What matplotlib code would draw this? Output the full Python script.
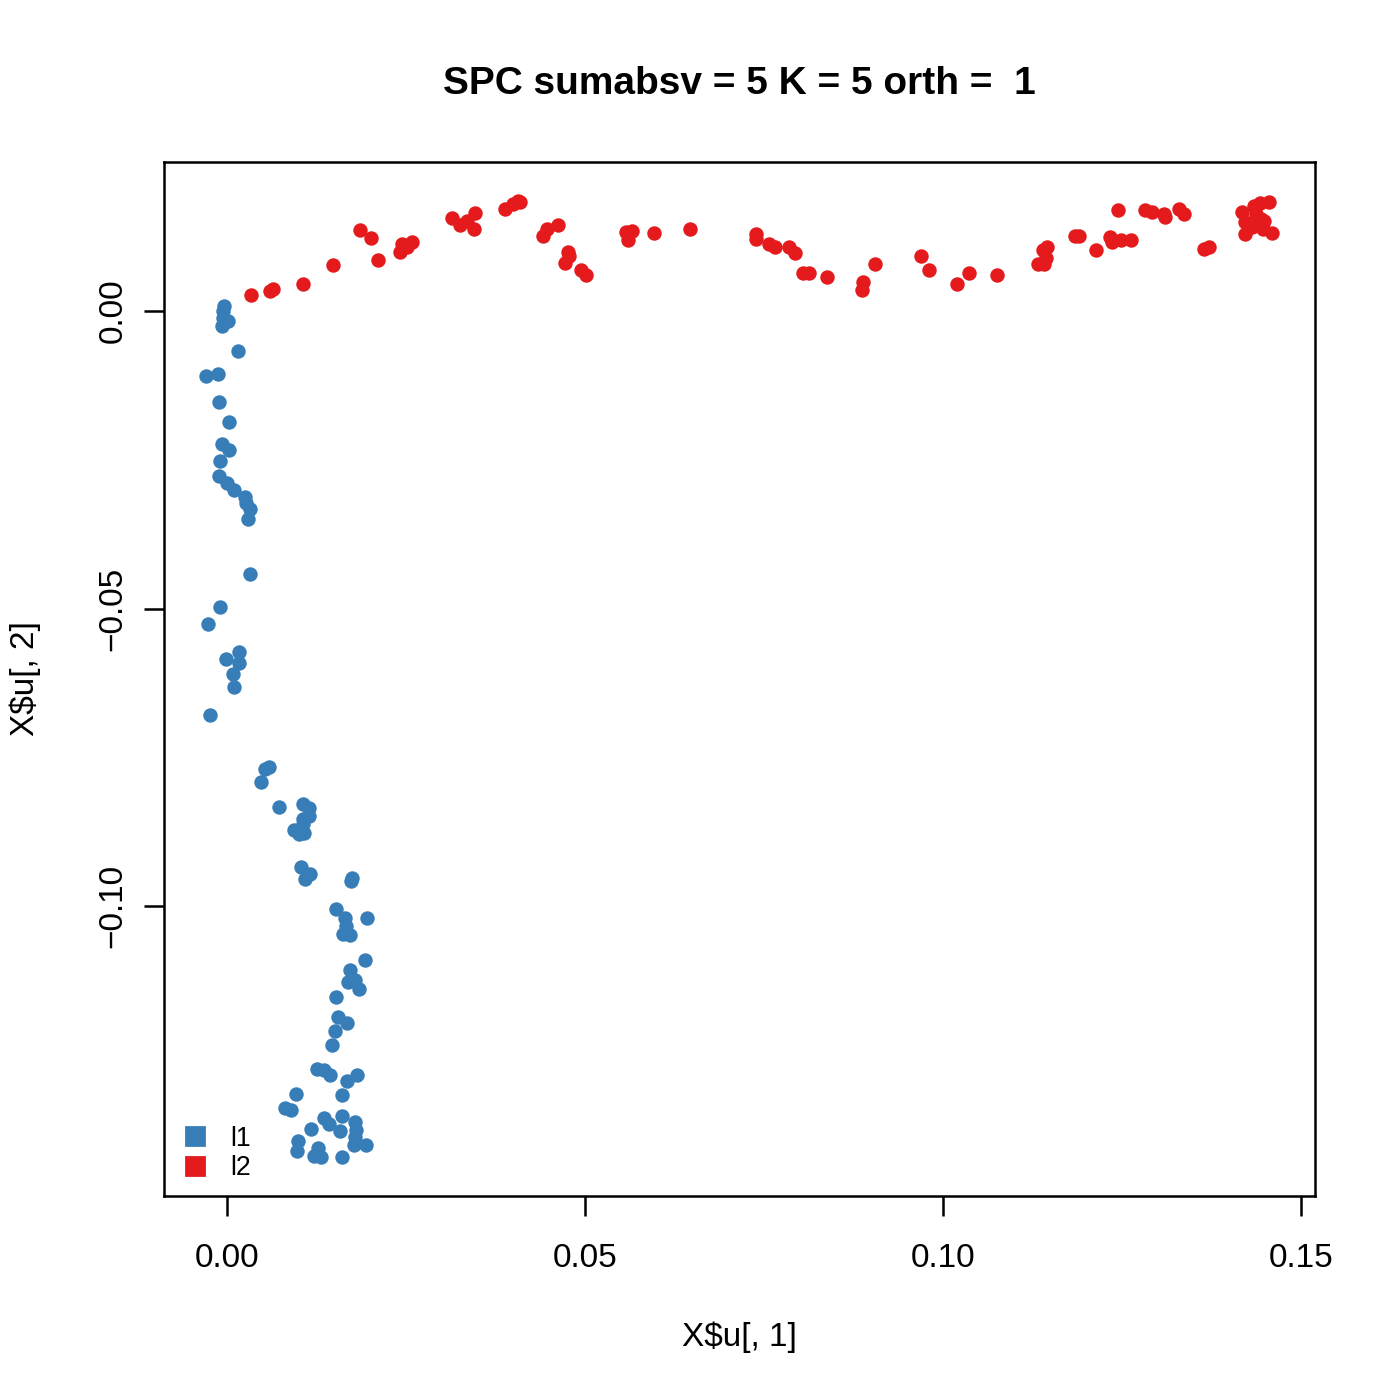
import numpy as np
import matplotlib
matplotlib.use("Agg")
import matplotlib.pyplot as plt
from matplotlib.lines import Line2D

plt.rcParams['font.family'] = ['Liberation Sans', 'DejaVu Sans']

# group l1 (blue)
l1_x = [-0.00052, -0.00056, -0.00060, 0.00014, -0.00070, 0.00149, -0.00293, -0.00130,
        -0.00112, 0.00028, -0.00074, 0.00018, -0.00107, -0.00121, -0.00004, 0.00088,
        0.00251, 0.00265, 0.00311, 0.00289, 0.00311, -0.00107, -0.00269, 0.00158,
        -0.00014, 0.00158, 0.00074, 0.00088, -0.00247, 0.00576, 0.00530, 0.00474,
        0.00725, 0.01050, 0.01144, 0.01144, 0.01050, 0.01050, 0.00934, 0.01064,
        0.00994, 0.01028, 0.01158, 0.01078, 0.01739, 0.01725, 0.01516, 0.01646,
        0.01957, 0.01660, 0.01622, 0.01715, 0.01925, 0.01715, 0.01785, 0.01678,
        0.01845, 0.01516, 0.01544, 0.01669, 0.01497, 0.01464, 0.01251, 0.01343,
        0.01437, 0.01669, 0.01809, 0.01608, 0.00962, 0.00809, 0.00888, 0.01343,
        0.01413, 0.01600, 0.01785, 0.01167, 0.01576, 0.01799, 0.01785, 0.00980,
        0.01762, 0.01934, 0.00972, 0.01259, 0.01204, 0.01307, 0.01608]
l1_y = [0.00079, 0.00000, -0.00118, -0.00168, -0.00253, -0.00673, -0.01094, -0.01056,
        -0.01532, -0.01869, -0.02239, -0.02335, -0.02525, -0.02773, -0.02896, -0.03008,
        -0.03120, -0.03232, -0.03333, -0.03497, -0.04416, -0.04971, -0.05253, -0.05729,
        -0.05842, -0.05914, -0.06094, -0.06318, -0.06785, -0.07665, -0.07694, -0.07907,
        -0.08328, -0.08283, -0.08355, -0.08480, -0.08535, -0.08620, -0.08716, -0.08776,
        -0.08788, -0.09338, -0.09461, -0.09534, -0.09517, -0.09574, -0.10051, -0.10190,
        -0.10202, -0.10332, -0.10471, -0.10488, -0.10909, -0.11061, -0.11229, -0.11274,
        -0.11386, -0.11520, -0.11864, -0.11958, -0.12088, -0.12335, -0.12732, -0.12744,
        -0.12840, -0.12929, -0.12840, -0.13165, -0.13153, -0.13379, -0.13418, -0.13557,
        -0.13658, -0.13513, -0.13614, -0.13742, -0.13771, -0.13754, -0.13867, -0.13934,
        -0.14007, -0.14007, -0.14108, -0.14062, -0.14192, -0.14204, -0.14214]

# group l2 (red)
l2_x = [0.00331, 0.00590, 0.00632, 0.01056, 0.01469, 0.01855, 0.02004, 0.02102,
        0.02413, 0.02437, 0.02506, 0.02576, 0.03134, 0.03250, 0.03343, 0.03459,
        0.03445, 0.03877, 0.03993, 0.04063, 0.04086, 0.04403, 0.04459, 0.04621,
        0.04760, 0.04774, 0.04714, 0.04933, 0.05007, 0.05565, 0.05658, 0.05597,
        0.05960, 0.06457, 0.07388, 0.07378, 0.07573, 0.07657, 0.07852, 0.07936,
        0.08038, 0.08121, 0.08378, 0.08874, 0.08866, 0.09047, 0.09689, 0.09805,
        0.10186, 0.10363, 0.10757, 0.11329, 0.11395, 0.11455, 0.11432, 0.11409,
        0.11841, 0.11897, 0.12130, 0.12329, 0.12361, 0.12478, 0.12626, 0.12445,
        0.12813, 0.12919, 0.13082, 0.13096, 0.13301, 0.13361, 0.13640, 0.13710,
        0.14174, 0.14222, 0.14222, 0.14338, 0.14431, 0.14547, 0.14367, 0.14437,
        0.14484, 0.14393, 0.14463, 0.14593, 0.14313]
l2_y = [0.00264, 0.00332, 0.00370, 0.00443, 0.00763, 0.01352, 0.01212, 0.00859,
        0.00988, 0.01116, 0.01061, 0.01145, 0.01554, 0.01436, 0.01510, 0.01633,
        0.01369, 0.01705, 0.01790, 0.01847, 0.01818, 0.01258, 0.01369, 0.01436,
        0.00988, 0.00921, 0.00808, 0.00678, 0.00601, 0.01313, 0.01342, 0.01184,
        0.01296, 0.01369, 0.01285, 0.01200, 0.01116, 0.01061, 0.01072, 0.00976,
        0.00628, 0.00640, 0.00572, 0.00483, 0.00342, 0.00791, 0.00921, 0.00685,
        0.00455, 0.00640, 0.00594, 0.00791, 0.01015, 0.01072, 0.00892, 0.00779,
        0.01258, 0.01246, 0.01015, 0.01229, 0.01157, 0.01190, 0.01190, 0.01695,
        0.01689, 0.01650, 0.01621, 0.01566, 0.01705, 0.01621, 0.01032, 0.01072,
        0.01650, 0.01481, 0.01285, 0.01763, 0.01801, 0.01818, 0.01621, 0.01537,
        0.01510, 0.01453, 0.01369, 0.01296, 0.01397]

x_ticks = [0.00, 0.05, 0.10, 0.15]
x_labels = ["0.00", "0.05", "0.10", "0.15"]
y_ticks = [-0.10, -0.05, 0.00]
y_labels = ["\u22120.10", "\u22120.05", "0.00"]

blue = "#377EB8"
red = "#E41A1C"

fig = plt.figure(figsize=(7, 7), dpi=200)
ax = fig.add_axes([0.117, 0.146, 0.822, 0.738])

ax.scatter(l1_x, l1_y, s=27, color=blue, linewidths=0, zorder=3)
ax.scatter(l2_x, l2_y, s=27, color=red, linewidths=0, zorder=3)

# R style 4% axis extension
allx = np.array(l1_x + l2_x)
ally = np.array(l1_y + l2_y)
rx = allx.max() - allx.min()
ry = ally.max() - ally.min()
ax.set_xlim(allx.min() - 0.04 * rx, allx.max() + 0.04 * rx)
ax.set_ylim(ally.min() - 0.04 * ry, ally.max() + 0.04 * ry)

ax.set_xticks(x_ticks)
ax.set_xticklabels(x_labels)
ax.set_yticks(y_ticks)
ax.set_yticklabels(y_labels, rotation=90, va='center')
ax.tick_params(direction='out', length=7.2, width=0.9, labelsize=12, pad=10)
ax.tick_params(axis='y', pad=5.5)
for sp in ax.spines.values():
    sp.set_linewidth(0.9)

fig.text(0.528, 0.045, "X\\$u[, 1]", ha='center', va='center', fontsize=12)
fig.text(0.018, 0.515, "X\\$u[, 2]", ha='center', va='center', fontsize=12, rotation=90)
fig.text(0.528, 0.94, "SPC sumabsv = 5 K = 5 orth =  1", ha='center', va='center',
         fontsize=14, fontweight='bold')

handles = [Line2D([], [], marker='s', linestyle='', color=blue, markersize=6.5),
           Line2D([], [], marker='s', linestyle='', color=red, markersize=6.5)]
ax.legend(handles, ["l1", "l2"], loc='lower left', bbox_to_anchor=(0.003, 0.0),
          frameon=False, fontsize=9.6, handlelength=1.0, handletextpad=0.8,
          borderpad=0.25, borderaxespad=0.3, labelspacing=0.12)

fig.savefig("out.png", dpi=200)
